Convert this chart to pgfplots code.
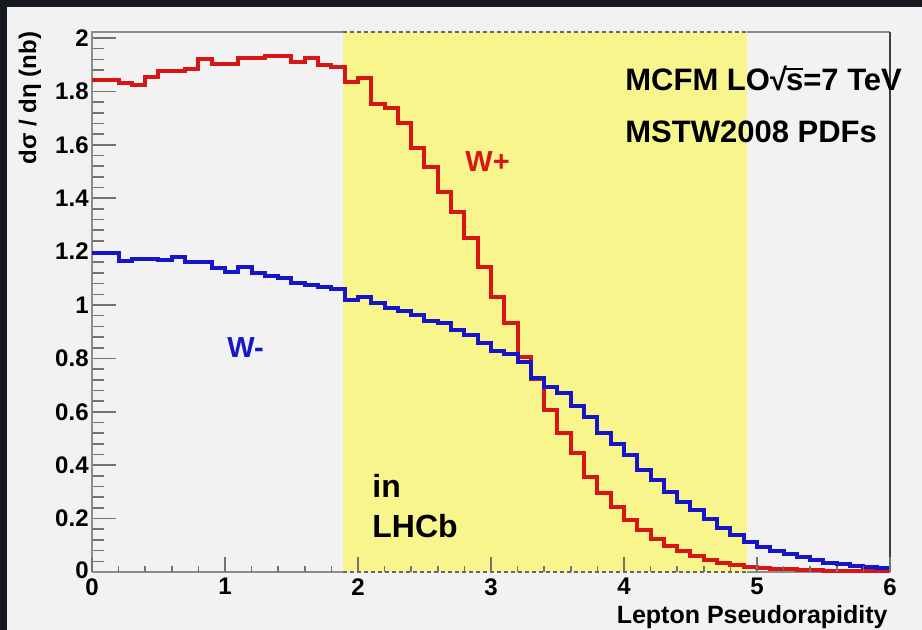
\documentclass[border=0pt]{standalone}
\usepackage{fontspec}
\setmainfont{Liberation Sans}
\usepackage{pgfplots}
\usepackage{pgfplotstable}
\pgfplotsset{compat=1.18}
\definecolor{darkbg}{RGB}{22,26,30}
\definecolor{canvas}{RGB}{242,242,242}
\definecolor{band}{RGB}{247,245,140}
\definecolor{wplus}{RGB}{215,22,22}
\definecolor{wminus}{RGB}{22,22,200}
\pgfplotstableread{
x wp wm
0.0 1.843 1.194
0.1 1.843 1.194
0.2 1.830 1.166
0.3 1.824 1.171
0.4 1.855 1.171
0.5 1.878 1.168
0.6 1.878 1.179
0.7 1.883 1.160
0.8 1.920 1.160
0.9 1.903 1.137
1.0 1.903 1.125
1.1 1.926 1.141
1.2 1.926 1.119
1.3 1.934 1.109
1.4 1.934 1.100
1.5 1.909 1.081
1.6 1.926 1.075
1.7 1.899 1.069
1.8 1.890 1.059
1.9 1.837 1.018
2.0 1.851 1.029
2.1 1.752 1.006
2.2 1.736 0.988
2.3 1.683 0.979
2.4 1.587 0.963
2.5 1.518 0.941
2.6 1.424 0.931
2.7 1.350 0.906
2.8 1.250 0.888
2.9 1.141 0.856
3.0 1.030 0.828
3.1 0.931 0.818
3.2 0.804 0.788
3.3 0.722 0.725
3.4 0.607 0.692
3.5 0.522 0.669
3.6 0.447 0.622
3.7 0.355 0.579
3.8 0.297 0.519
3.9 0.245 0.480
4.0 0.195 0.438
4.1 0.157 0.382
4.2 0.122 0.345
4.3 0.097 0.301
4.4 0.079 0.263
4.5 0.060 0.232
4.6 0.045 0.197
4.7 0.035 0.164
4.8 0.026 0.139
4.9 0.020 0.114
5.0 0.016 0.095
5.1 0.012 0.079
5.2 0.010 0.066
5.3 0.008 0.055
5.4 0.006 0.045
5.5 0.005 0.035
5.6 0.004 0.029
5.7 0.003 0.023
5.8 0.002 0.018
5.9 0.002 0.014
6.0 0.002 0.014
}\histdata
\begin{document}
\begin{tikzpicture}
\fill[darkbg] (0,0) rectangle (461bp,315bp);
\fill[canvas] (3.5bp,0) rectangle (461bp,311.5bp);
\begin{axis}[
  at={(46bp,29bp)}, anchor=south west,
  scale only axis, width=399bp, height=270bp,
  xmin=0, xmax=6, ymin=0, ymax=2.0225,
  clip=false,
  axis line style={draw=none},
  xtick=\empty,
  ytick={0,0.2,0.4,0.6,0.8,1,1.2,1.4,1.6,1.8,2},
  yticklabels={\raisebox{2bp}{0},0.2,0.4,0.6,0.8,1,1.2,1.4,1.6,1.8,2},
  minor y tick num=4,
  ytick pos=left,
  major tick length=12bp, minor tick length=6bp,
  tick style={draw=black!55, line width=0.8bp},
  yticklabel style={font=\bfseries\fontsize{12bp}{14bp}\selectfont, inner sep=1.5bp},
  /pgf/number format/assume math mode=true,
]
\addplot[fill=band, draw=none] coordinates {(1.885,0) (4.925,0) (4.925,2.0225) (1.885,2.0225)} -- cycle;
\addplot[draw=black!60, line width=0.8bp, dash pattern=on 2bp off 1.5bp] coordinates {(1.885,2.0225) (4.925,2.0225)};
\addplot[draw=black!60, line width=0.8bp, dash pattern=on 2bp off 1.5bp] coordinates {(1.885,0) (4.925,0)};
\addplot[draw=black!45, line width=1bp] coordinates {(0,0) (1.885,0)};
\addplot[draw=black!45, line width=1bp] coordinates {(4.925,0) (6,0)};
\addplot[draw=black!45, line width=1bp] coordinates {(0,0) (0,2.0225) (1.885,2.0225)};
\addplot[draw=black!45, line width=1bp] coordinates {(4.925,2.0225) (6,2.0225)};
\addplot[draw=black!75, line width=1bp] coordinates {(6,0) (6,2.0225)};
\addplot[const plot, draw=wplus, line width=2bp, line join=miter, no marks] table[x=x, y=wp] {\histdata};
\addplot[const plot, draw=wminus, line width=2bp, line join=miter, no marks] table[x=x, y=wm] {\histdata};
\end{axis}
\begin{axis}[
  at={(46bp,29bp)}, anchor=south west,
  scale only axis, width=399bp, height=270bp,
  xmin=0, xmax=6, ymin=0, ymax=2.0225,
  axis line style={draw=none},
  ytick=\empty,
  xtick={0,1,2,3,4,5,6},
  minor x tick num=4,
  xtick pos=left,
  major tick length=7.5bp, minor tick length=3bp,
  tick style={draw=black!55, line width=0.8bp},
  xticklabel style={font=\bfseries\fontsize{12bp}{14bp}\selectfont, inner sep=3bp},
  /pgf/number format/assume math mode=true,
]
\end{axis}
\node[rotate=90, font=\bfseries\fontsize{12bp}{14bp}\selectfont] at (15bp,266bp) {dσ / dη (nb)};
\node[anchor=base east, inner sep=0pt, font=\bfseries\fontsize{12.5bp}{14bp}\selectfont] at (444bp,3.5bp) {Lepton Pseudorapidity};
\node[anchor=base west, inner sep=0pt, font=\bfseries\fontsize{15.5bp}{18bp}\selectfont] at (312.5bp,269.7bp) {MCFM LO√\kern-0.03em\vbox{\hrule height 1.1bp\kern 2bp\hbox{s}}=7 TeV};
\node[anchor=base west, inner sep=0pt, font=\bfseries\fontsize{15.5bp}{18bp}\selectfont] at (312.5bp,243.5bp) {MSTW2008 PDFs};
\node[anchor=base west, inner sep=0pt, text=wplus, font=\bfseries\fontsize{14.5bp}{17bp}\selectfont] at (232.5bp,229bp) {W+};
\node[anchor=base west, inner sep=0pt, text=wminus, font=\bfseries\fontsize{14.5bp}{17bp}\selectfont] at (113.5bp,136bp) {W-};
\node[anchor=base west, inner sep=0pt, font=\bfseries\fontsize{16bp}{19bp}\selectfont] at (186bp,66bp) {in};
\node[anchor=base west, inner sep=0pt, font=\bfseries\fontsize{16bp}{19bp}\selectfont] at (186bp,46bp) {LHCb};
\pgfresetboundingbox
\path (0,0) rectangle (461bp,315bp);
\end{tikzpicture}
\end{document}
